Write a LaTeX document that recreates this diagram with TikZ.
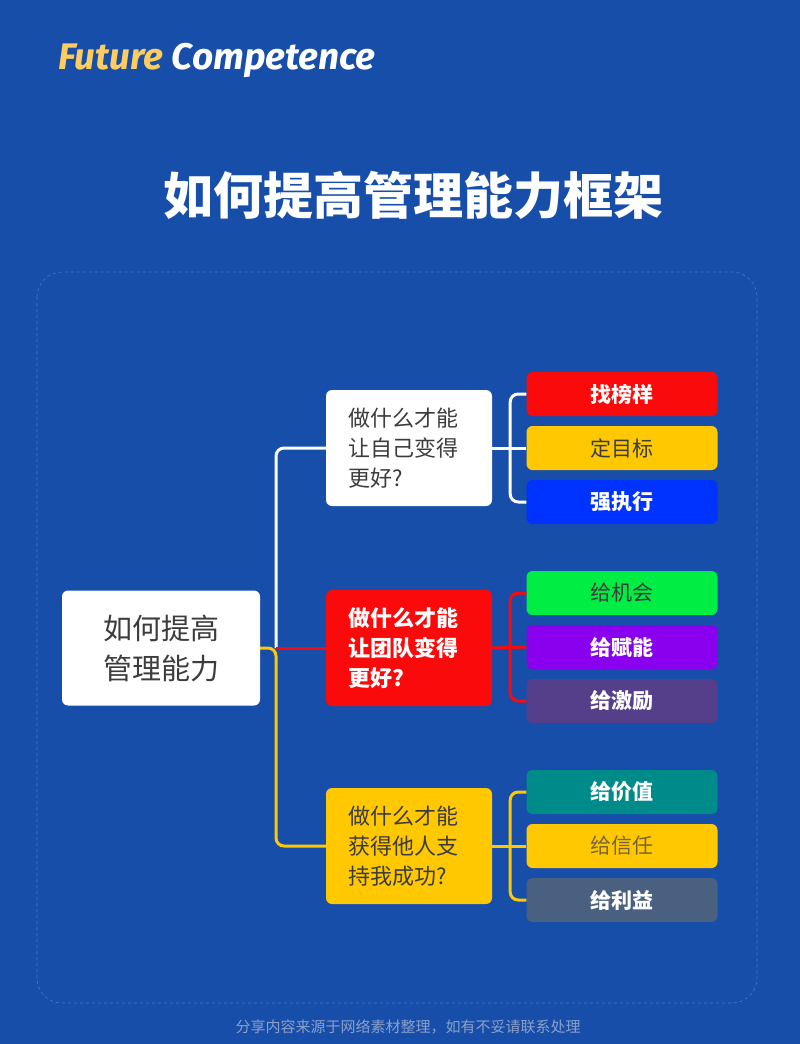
\documentclass[tikz,border=0pt]{standalone}
\usepackage{fontspec}
\usetikzlibrary{calc}
\setmainfont{Noto Sans CJK SC}
\newfontfamily\cjk{Noto Sans CJK SC}
\newfontfamily\latn{Fira Sans}
\begin{document}
\definecolor{bg}{RGB}{22,78,170}
\definecolor{frm}{RGB}{80,120,200}
\definecolor{yel}{RGB}{255,200,0}
\definecolor{fy}{RGB}{255,205,95}
\definecolor{rd}{RGB}{250,10,10}
\definecolor{dk}{RGB}{60,60,60}
\begin{tikzpicture}[x=1pt,y=-1pt,
  box/.style={rounded corners=6pt,minimum width=166pt,minimum height=116pt,inner sep=0pt,font=\cjk\fontsize{22}{30}\selectfont,align=left,text width=122pt},
  leaf/.style={rounded corners=6pt,minimum width=191pt,minimum height=44pt,inner sep=0pt,font=\cjk\bfseries\fontsize{21}{24}\selectfont},
  ln/.style={line width=3pt,rounded corners=8pt}]
\fill[bg] (0,0) rectangle (800,1044);
\useasboundingbox (0,0) rectangle (800,1044);
\draw[frm,dashed,line width=0.6pt,rounded corners=25pt] (37,272) rectangle (757,1003);
\node[anchor=west,font=\latn\bfseries\itshape\fontsize{37}{40}\selectfont] (brand) at (55,60) {\textcolor{fy}{Future} \textcolor{white}{Competence}};
\node[white,font=\cjk\bfseries\fontsize{50}{56}\selectfont] (title) at (413,195) {如何提高管理能力框架};
\node[fill=white,rounded corners=6pt,minimum width=198pt,minimum height=115pt,inner sep=0pt,text=dk,align=center,font=\cjk\fontsize{29}{40}\selectfont] (root) at (161,648) {如何提高\\管理能力};
\node[box,fill=white,text=dk] (m1) at (409,448) {做什么才能\\让自己变得\\更好?};
\node[box,fill=rd,text=white] (m2) at (409,648) {\bfseries 做什么才能\\让团队变得\\更好?};
\node[box,fill=yel,text=dk] (m3) at (409,846) {做什么才能\\获得他人支\\持我成功?};
\node[leaf,fill=rd,text=white] (l1) at (622,394) {找榜样};
\node[leaf,fill=yel,text=dk,font=\cjk\fontsize{21}{24}\selectfont] (l2) at (622,448) {定目标};
\node[leaf,fill={rgb,255:red,0;green,51;blue,255},text=white] (l3) at (622,502) {强执行};
\node[leaf,fill={rgb,255:red,0;green,238;blue,68},text=dk,font=\cjk\fontsize{21}{24}\selectfont] (l4) at (622,593) {给机会};
\node[leaf,fill={rgb,255:red,136;green,0;blue,238},text=white] (l5) at (622,647) {给赋能};
\node[leaf,fill={rgb,255:red,85;green,62;blue,138},text=white] (l6) at (622,701) {给激励};
\node[leaf,fill={rgb,255:red,0;green,139;blue,139},text=white] (l7) at (622,792) {给价值};
\node[leaf,fill=yel,text={rgb,255:red,120;green,100;blue,60},font=\cjk\fontsize{21}{24}\selectfont] (l8) at (622,846) {给信任};
\node[leaf,fill={rgb,255:red,74;green,96;blue,128},text=white] (l9) at (622,900) {给利益};
\node[font=\cjk\fontsize{15}{17}\selectfont,text={rgb,255:red,140;green,160;blue,200}] (foot) at (408,1027) {分享内容来源于网络素材整理，如有不妥请联系处理};
\coordinate (t) at (276,648);
\draw[ln,white] (t) |- (m1.west);
\draw[ln,yel] (root.east) -- (t) |- (m3.west);
\draw[ln,rd] (t) -- (m2.west);
\foreach \m/\a/\b/\c/\col in {m1/l1/l2/l3/white,m2/l4/l5/l6/rd,m3/l7/l8/l9/yel}{
  \coordinate (j) at ($(\m.east)+(18,0)$);
  \draw[ln,\col] (\m.east) -- (\b.west);
  \draw[ln,\col] (\a.west) -| (j) |- (\c.west);
}
\end{tikzpicture}
\end{document}
